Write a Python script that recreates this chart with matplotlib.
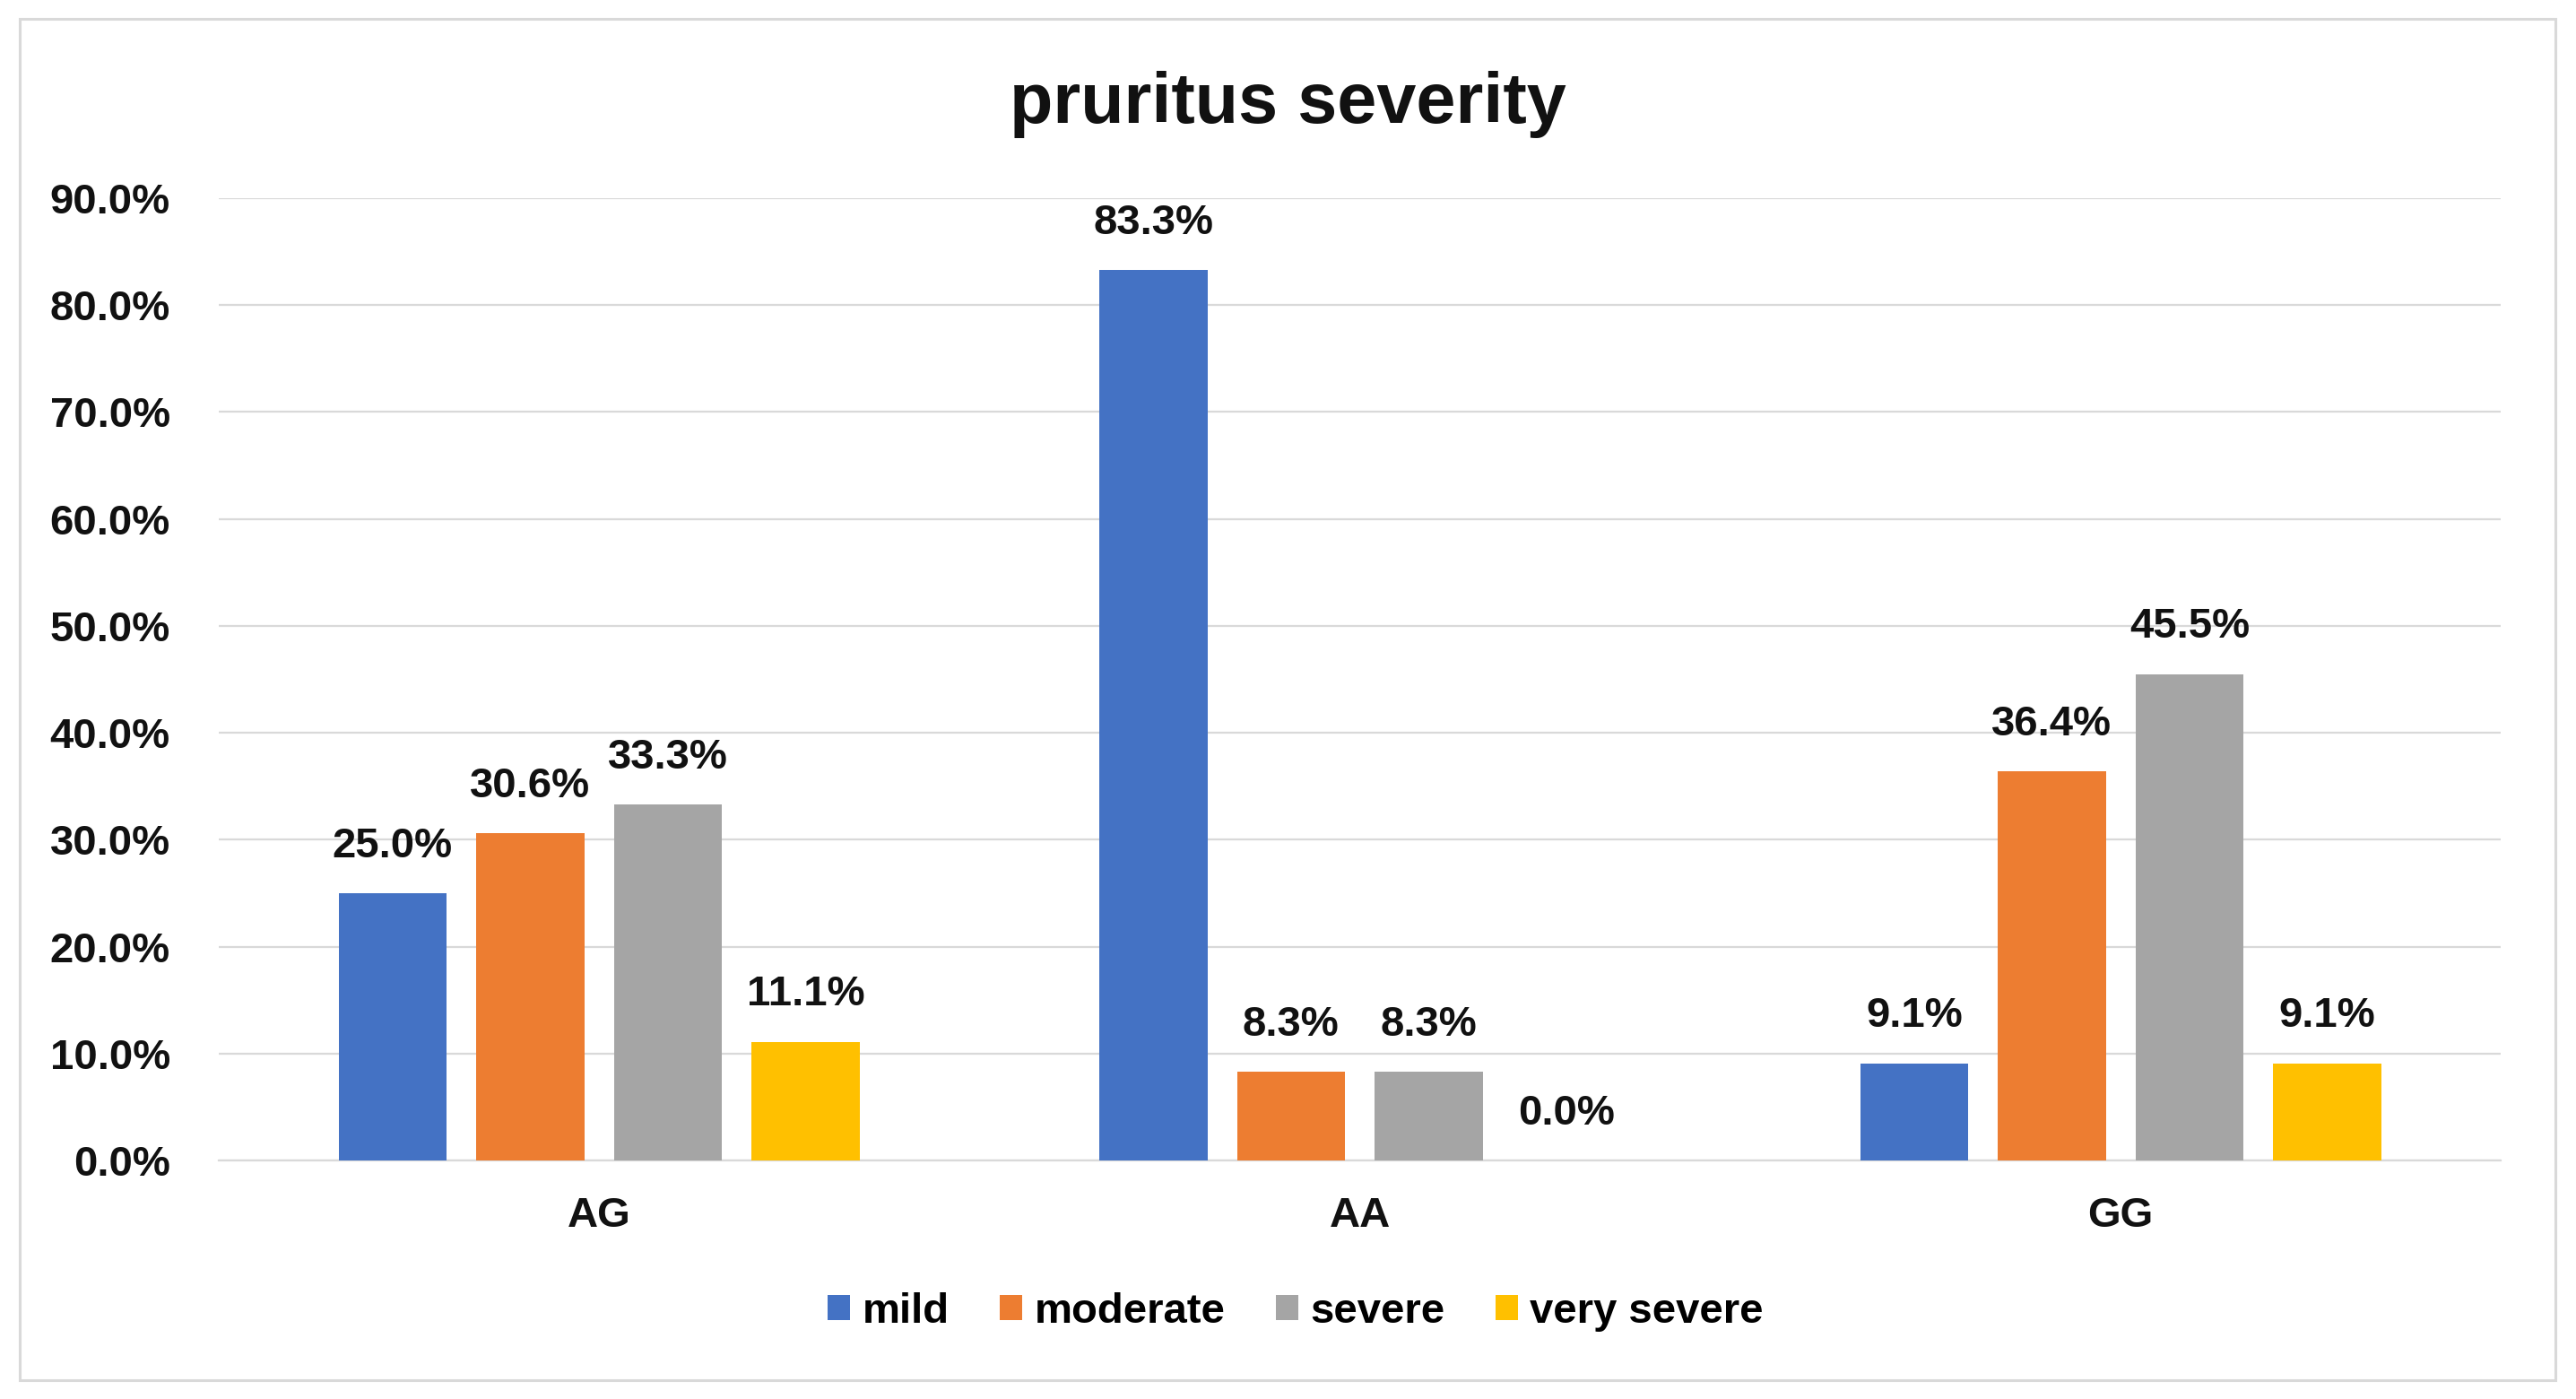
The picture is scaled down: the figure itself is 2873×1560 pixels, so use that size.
import matplotlib
matplotlib.use("Agg")
import matplotlib.pyplot as plt
import numpy as np
from matplotlib.patches import Rectangle
from matplotlib.ticker import PercentFormatter

plt.rcParams['font.family'] = ['Liberation Sans', 'DejaVu Sans']
plt.rcParams['font.weight'] = 'bold'

# data
genotypes = ['AG', 'AA', 'GG']
severity = ['mild', 'moderate', 'severe', 'very severe']
mild = [25.0, 83.3, 9.1]
moderate = [30.6, 8.3, 36.4]
severe = [33.3, 8.3, 45.5]
very_severe = [11.1, 0.0, 9.1]
colors = ['#4472C4', '#ED7D31', '#A5A5A5', '#FFC000']

series = [mild, moderate, severe, very_severe]

fig = plt.figure(figsize=(28.73, 15.6), dpi=100)
ax = fig.add_axes([0.0849, 0.1705, 0.8860, 0.6878])

# рамка вокруг всей картинки
fig.patches.append(Rectangle((22 / 2873, 21 / 1560), 2828 / 2873, 1518 / 1560,
                             transform=fig.transFigure, fill=False,
                             edgecolor='#d9d9d9', linewidth=2.2))

x = np.arange(len(genotypes))
width = 0.142
step = 0.181
for i, (vals, name, c) in enumerate(zip(series, severity, colors)):
    pos = x + (i - 1.5) * step
    bars = ax.bar(pos, vals, width=width, color=c, label=name, zorder=3)
    for b, v in zip(bars, vals):
        ax.annotate(f'{v:.1f}%', (b.get_x() + b.get_width() / 2, v),
                    xytext=(0, 29), textcoords='offset points',
                    ha='center', va='baseline', fontsize=34,
                    fontweight='bold', color='#111111')

ax.set_xlim(-0.5, 2.5)
ax.set_ylim(0, 90)
ax.set_yticks(np.arange(0, 91, 10))
ax.yaxis.set_major_formatter(PercentFormatter(decimals=1))
ax.set_xticks(x)
ax.set_xticklabels(genotypes)

ax.grid(axis='y', color='#d9d9d9', linewidth=1.6, zorder=0)
for s in ['top', 'right', 'left']:
    ax.spines[s].set_visible(False)
ax.spines['bottom'].set_color('#d9d9d9')
ax.spines['bottom'].set_linewidth(1.6)
ax.tick_params(axis='both', length=0, labelsize=34, colors='#111111')
ax.tick_params(axis='y', pad=39)
ax.tick_params(axis='x', pad=29)

fig.text(0.5, 1 - 137 / 1560, 'pruritus severity', ha='center',
         va='baseline', fontsize=57, fontweight='bold', color='#111111')

fig.legend(loc='center', bbox_to_anchor=(0.503, 1 - 1463 / 1560), ncol=4,
           frameon=False, fontsize=34, handlelength=0.53, handleheight=0.53,
           handletextpad=0.28, columnspacing=1.2)

fig.savefig('out.png', dpi=100)
